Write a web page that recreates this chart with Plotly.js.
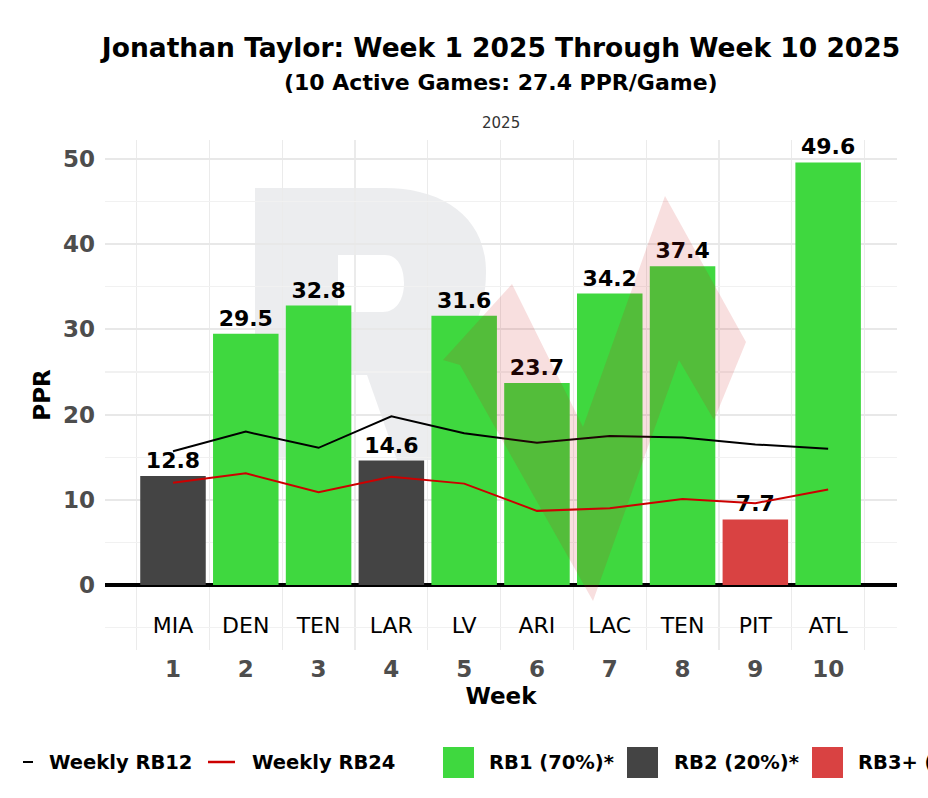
<!DOCTYPE html>
<html><head><meta charset="utf-8">
<script src="https://cdn.plot.ly/plotly-3.0.1.min.js"></script>
<style>html,body{margin:0;padding:0;background:#fff}#chart{width:928px;height:798px}</style>
</head><body><div id="chart"></div>
<script>
// ---- data ----
const weeks = [1,2,3,4,5,6,7,8,9,10];
const opponents = ["MIA","DEN","TEN","LAR","LV","ARI","LAC","TEN","PIT","ATL"];
const ppr = [12.8,29.5,32.8,14.6,31.6,23.7,34.2,37.4,7.7,49.6];
const tiers = ["RB2","RB1","RB1","RB2","RB1","RB1","RB1","RB1","RB3+","RB1"];
const rb12 = [15.7,18.0,16.1,19.8,17.8,16.7,17.5,17.3,16.5,16.0];
const rb24 = [12.0,13.1,10.9,12.7,11.9,8.7,9.0,10.1,9.6,11.2];
const tierNames = ["RB1","RB2","RB3+"];
const lineNames = ["Weekly RB12","Weekly RB24"];
const season = "2025";
const player = "Jonathan Taylor";

// ---- styles ----
const tierColors = {"RB1":"#3fd83f","RB2":"#444444","RB3+":"#d94242"};
const FONT = "DejaVu Sans";
const W = 928, H = 798;
const PL = 105, PR = 897, PT = 140, PB = 650;
const fx = px => (px - PL) / (PR - PL);
const fy = py => (PB - py) / (PB - PT);

const games = ppr.length;
const avg = ppr.reduce((a,b)=>a+b,0) / games;
const pct = t => Math.round(100 * tiers.filter(x=>x===t).length / games);

const traces = [
  {
    type: 'bar', x: weeks, y: ppr, width: 0.9,
    marker: {color: tiers.map(t => tierColors[t]), line: {width: 0}},
    text: ppr.map(v => v.toFixed(1)), textposition: 'outside',
    textfont: {family: FONT, size: 22, color: '#000', weight: 'bold'},
    cliponaxis: false, showlegend: false, hoverinfo: 'x+y'
  },
  {
    type: 'scatter', mode: 'text', x: weeks, y: weeks.map(() => -5),
    text: opponents, textposition: 'middle center',
    textfont: {family: FONT, size: 22, color: '#000'},
    showlegend: false, hoverinfo: 'skip', cliponaxis: false
  },
  {
    type: 'scatter', mode: 'lines', x: weeks, y: rb12, name: lineNames[0],
    line: {color: '#000000', width: 2}, showlegend: false
  },
  {
    type: 'scatter', mode: 'lines', x: weeks, y: rb24, name: lineNames[1],
    line: {color: '#cc0000', width: 2}, showlegend: false
  }
];

// ---- watermark (logo, not data) ----
const rSvg = `<svg xmlns="http://www.w3.org/2000/svg" width="792" height="510" viewBox="105 140 792 510" preserveAspectRatio="none">
<path fill-rule="evenodd" fill="rgba(40,50,75,0.09)" d="M255,188 L385,188 C440,188 486,215 486,272 C486,315 468,345 443,362 L480,460 L397,460 L367,375 L338,375 L338,460 L255,460 Z M338,255 L385,255 C398,255 404,268 404,283 C404,300 396,312 383,312 L338,312 Z"/>
</svg>`;
const arrowSvg = `<svg xmlns="http://www.w3.org/2000/svg" width="792" height="510" viewBox="105 140 792 510" preserveAspectRatio="none">
<path fill="rgba(205,30,30,0.14)" d="M443,360 L512,284 L583,427 L665,196 L746,342 L714,420 L679,360 L593,601 L460,365 Z"/>
</svg>`;
const uri = s => 'data:image/svg+xml;charset=utf-8,' + encodeURIComponent(s);

// ---- manual legend ----
const LY = 762;
const shapes = [
  {type:'line', xref:'paper', yref:'paper', x0:fx(23), x1:fx(33), y0:fy(LY), y1:fy(LY), line:{color:'#000', width:2}},
  {type:'line', xref:'paper', yref:'paper', x0:fx(208), x1:fx(235), y0:fy(LY), y1:fy(LY), line:{color:'#cc0000', width:2.5}},
];
const sqX = [443, 627, 812];
tierNames.forEach((t,i) => {
  shapes.push({type:'rect', xref:'paper', yref:'paper', x0:fx(sqX[i]), x1:fx(sqX[i]+31), y0:fy(778), y1:fy(747),
    fillcolor: tierColors[t], line:{width:0}});
});
const legFont = {family: FONT, size: 19.5, color: '#000', weight: 'bold'};
const annotations = [
  {xref:'paper', yref:'paper', x:fx(47), y:fy(LY), xanchor:'left', yanchor:'middle', text:lineNames[0], showarrow:false, font:legFont},
  {xref:'paper', yref:'paper', x:fx(250), y:fy(LY), xanchor:'left', yanchor:'middle', text:lineNames[1], showarrow:false, font:legFont},
];
const legTextX = [487, 672, 856];
tierNames.forEach((t,i) => {
  annotations.push({xref:'paper', yref:'paper', x:fx(legTextX[i]), y:fy(LY), xanchor:'left', yanchor:'middle',
    text: `${t} (${pct(t)}%)*`, showarrow:false, font:legFont});
});
annotations.push(
  {xref:'paper', yref:'paper', x:0.5, y:fy(83), xanchor:'center', yanchor:'middle', showarrow:false,
   text:`(${games} Active Games: ${avg.toFixed(1)} PPR/Game)`, font:{family:FONT, size:22, color:'#000', weight:'bold'}},
  {xref:'paper', yref:'paper', x:0.5, y:fy(123.5), xanchor:'center', yanchor:'middle', showarrow:false,
   text: season, font:{family:FONT, size:15, color:'#333'}}
);

const layout = {
  width: W, height: H,
  margin: {l: PL, r: W - PR, t: PT, b: H - PB, pad: 0},
  paper_bgcolor: '#ffffff', plot_bgcolor: '#ffffff',
  font: {family: FONT},
  title: {
    text: `${player}: Week ${weeks[0]} ${season} Through Week ${weeks[weeks.length-1]} ${season}`,
    font: {family: FONT, size: 26.5, color: '#000', weight: 'bold'},
    xref: 'paper', x: 0.5, xanchor: 'center',
    yref: 'container', y: 1 - 48/H, yanchor: 'middle'
  },
  showlegend: false,
  bargap: 0.1,
  xaxis: {
    range: [0.066, 10.946], tickmode: 'linear', tick0: 1, dtick: 1,
    showgrid: false, zeroline: false, showline: false, ticks: '',
    tickfont: {family: FONT, size: 23, color: '#4d4d4d', weight: 'bold'},
    ticklabelstandoff: 3,
    minor: {tick0: 0.5, dtick: 1, showgrid: true, gridcolor: '#ebebeb', gridwidth: 1.2, ticks: ''},
    title: {text: 'Week', font: {family: FONT, size: 23, color: '#000', weight: 'bold'}, standoff: 6},
    fixedrange: true
  },
  yaxis: {
    range: [-7.63, 52.23], tickmode: 'linear', tick0: 0, dtick: 10,
    showgrid: true, gridcolor: '#e8e8e8', gridwidth: 2.2,
    zeroline: true, zerolinecolor: '#000000', zerolinewidth: 4,
    showline: false, ticks: '',
    tickfont: {family: FONT, size: 23, color: '#4d4d4d', weight: 'bold'},
    ticklabelstandoff: 9,
    minor: {tick0: 5, dtick: 10, showgrid: true, gridcolor: '#f1f1f1', gridwidth: 1.2, ticks: ''},
    title: {text: 'PPR', font: {family: FONT, size: 23, color: '#000', weight: 'bold'}, standoff: 5},
    fixedrange: true
  },
  images: [
    {source: uri(rSvg), xref:'paper', yref:'paper', x:0, y:1, sizex:1, sizey:1, sizing:'stretch', xanchor:'left', yanchor:'top', layer:'below'},
    {source: uri(arrowSvg), xref:'paper', yref:'paper', x:0, y:1, sizex:1, sizey:1, sizing:'stretch', xanchor:'left', yanchor:'top', layer:'above'}
  ],
  shapes: shapes,
  annotations: annotations
};

Plotly.newPlot('chart', traces, layout, {displayModeBar: false, staticPlot: true});
</script>
</body></html>
